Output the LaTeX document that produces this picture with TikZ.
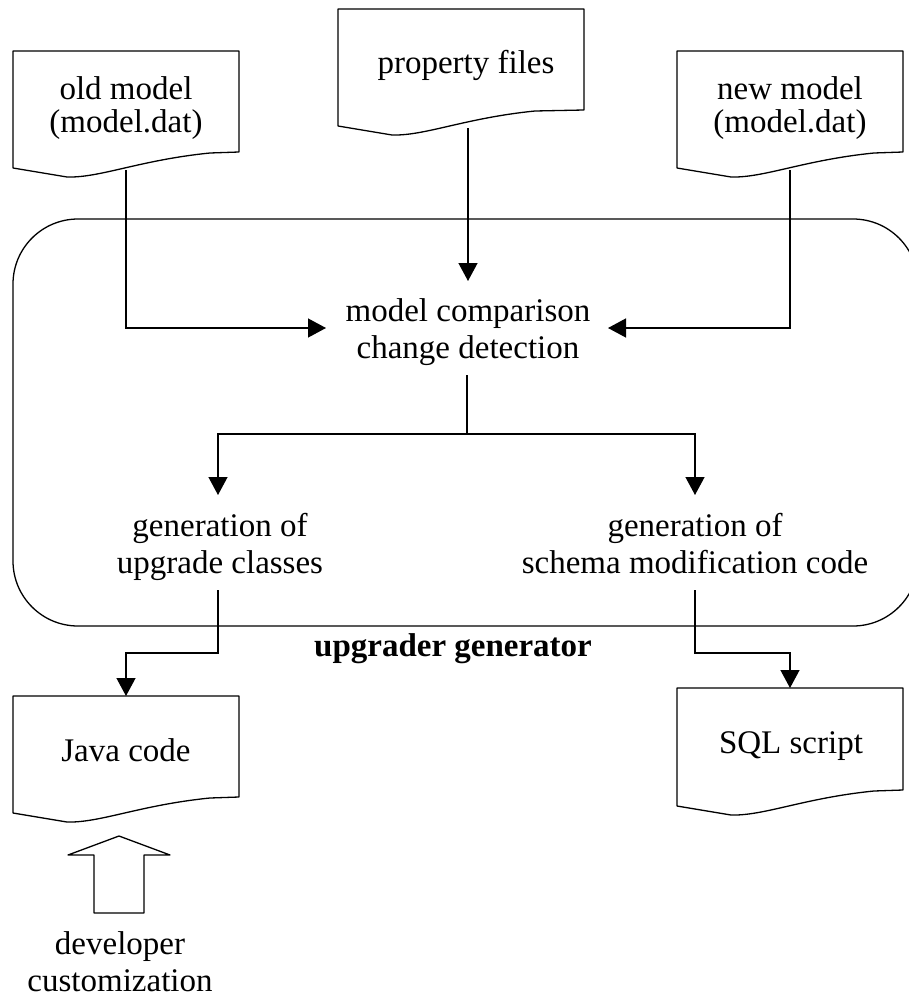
\documentclass[tikz,border=0pt]{standalone}
\usepackage{fontspec}
\setmainfont{Liberation Serif}
\usetikzlibrary{arrows.meta}

% document symbol with a wavy bottom edge: left, top, right, bottom (right corner)
\newcommand{\docbox}[5]{%
  \draw[docline] ({#1},{#4+16}) -- ({#1},{#2}) -- ({#3},{#2}) -- ({#3},{#4})
    -- ({#1+197},{#4+1}) .. controls ({#1+127},{#4+8}) and ({#1+87},{#4+26}) .. ({#1+54},{#4+25})
    -- cycle;
  \coordinate (#5) at ({(#1+#3)/2},{#2});}

\begin{document}
\begin{tikzpicture}[x=1pt,y=-1pt,
  docline/.style={line width=1.3pt, line join=round},
  conn/.style={line width=1.3pt},
  arr/.style={conn, -{Triangle[length=18pt,width=19pt]}},
  lbl/.style={font=\fontsize{33}{37}\selectfont, align=center, inner sep=0pt, anchor=base},
  tight/.style={font=\fontsize{33}{33}\selectfont},
  boldlbl/.style={lbl, font=\fontsize{33}{37}\selectfont\bfseries}]

\useasboundingbox (0,0) rectangle (909,998);
\clip (0,0) rectangle (909,998);

% generator frame
\draw[conn, rounded corners=65pt] (13,219) -- (918,219) -- (918,626) -- (13,626) -- cycle;

% input documents (node positions are the baselines of the last lines)
\docbox{13}{51}{239}{152}{oldtop}
\node[lbl, tight] (old) at (126,132) {old model\\(model.dat)};
\docbox{338}{9}{584}{110}{proptop}
\node[lbl] (prop) at (466,74) {property files};
\docbox{677}{51}{903}{152}{newtop}
\node[lbl, tight] (new) at (790,132) {new model\\(model.dat)};

% output documents
\docbox{13}{696}{239}{797}{javatop}
\node[lbl] (java) at (126,761) {Java code};
\docbox{677}{688}{903}{790}{sqltop}
\node[lbl] (sql) at (791,753) {SQL script};

% processing steps inside the generator
\node[lbl] (cmp) at (468,358) {model comparison\\change detection};
\node[lbl] (gen1) at (220,573) {generation of\\upgrade classes};
\node[lbl] (gen2) at (695,573) {generation of\\schema modification code};
\node[boldlbl] (frame) at (453,656) {upgrader generator};

% connection points
\coordinate (oldout) at (126,170);
\coordinate (propout) at (468,128);
\coordinate (newout) at (790,170);
\coordinate (cmpw) at (326,328);
\coordinate (cmpe) at (608,328);
\coordinate (cmpn) at (468,281);
\coordinate (cmps) at (467,375);
\coordinate (split) at (467,434);
\coordinate (gen1n) at (218,495);
\coordinate (gen2n) at (695,495);
\coordinate (gen1s) at (218,590);
\coordinate (gen2s) at (695,590);
\coordinate (gen1k) at (218,653);
\coordinate (gen2k) at (695,653);

% connectors
\draw[arr] (oldout) |- (cmpw);
\draw[arr] (newout) |- (cmpe);
\draw[arr] (propout) -- (cmpn);
\draw[conn] (cmps) -- (split);
\draw[arr] (split) -| (gen1n);
\draw[arr] (split) -| (gen2n);
\draw[arr] (gen1s) -- (gen1k) -| (javatop);
\draw[arr] (gen2s) -- (gen2k) -| (sqltop);

% block arrow below the Java code
\draw[docline] (94,913) -- (94,855) -- (68,855) -- (119,836) -- (170,855)
  -- (144,855) -- (144,913) -- cycle;
\node[lbl] (dev) at (120,991) {developer\\customization};
\end{tikzpicture}
\end{document}
